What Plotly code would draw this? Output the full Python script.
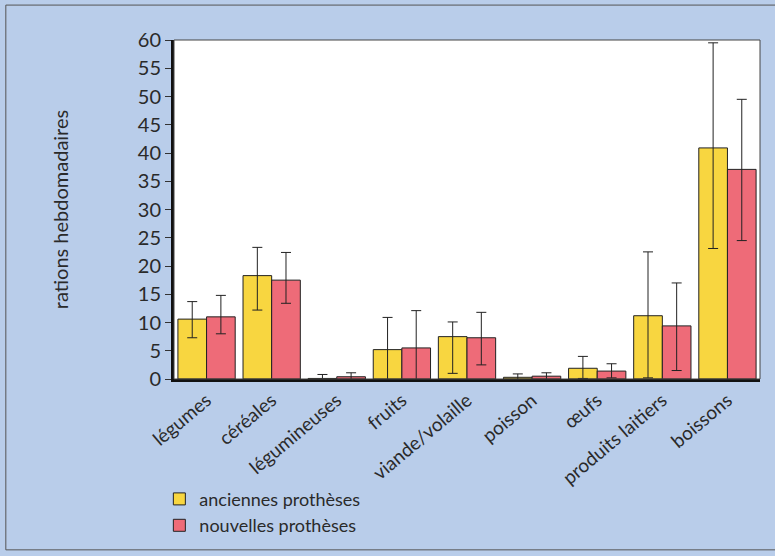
import plotly.graph_objects as go

# rations hebdomadaires par catégorie d'aliments
categories = ["légumes", "céréales", "légumineuses", "fruits", "viande/volaille",
              "poisson", "œufs", "produits laitiers", "boissons"]

anciennes = [10.6, 18.3, 0.1, 5.2, 7.5, 0.3, 1.9, 11.2, 40.9]
anciennes_plus = [3.1, 5.0, 0.7, 5.7, 2.6, 0.6, 2.1, 11.3, 18.6]
anciennes_moins = [3.3, 6.1, 0.7, 6.4, 6.5, 0.6, 1.8, 11.0, 17.8]

nouvelles = [11.0, 17.5, 0.4, 5.5, 7.3, 0.5, 1.4, 9.4, 37.1]
nouvelles_plus = [3.8, 4.9, 0.7, 6.6, 4.5, 0.6, 1.3, 7.6, 12.4]
nouvelles_moins = [3.0, 4.1, 0.7, 6.9, 4.8, 0.6, 1.2, 7.9, 12.6]

FONT = "Lato, 'Open Sans', sans-serif"
TXT = "#2a2a2a"
YELLOW = "#f8d640"
RED = "#ee6b78"
BG = "#b9cdea"

fig = go.Figure()

fig.add_trace(go.Bar(
    x=categories, y=anciennes, name="anciennes prothèses",
    marker=dict(color=YELLOW, line=dict(color="#222", width=1)),
    error_y=dict(type="data", array=anciennes_plus, arrayminus=anciennes_moins,
                 color="#222", thickness=1, width=5),
    cliponaxis=False,
))
fig.add_trace(go.Bar(
    x=categories, y=nouvelles, name="nouvelles prothèses",
    marker=dict(color=RED, line=dict(color="#222", width=1)),
    error_y=dict(type="data", array=nouvelles_plus, arrayminus=nouvelles_moins,
                 color="#222", thickness=1, width=5),
    cliponaxis=False,
))

# thin frame round the plot area
fig.add_shape(type="rect", xref="paper", yref="paper", x0=0, y0=0, x1=1, y1=1,
              line=dict(color="#444", width=1), layer="above")
# outer frame of the figure
fig.add_shape(type="rect", xref="paper", yref="paper", x0=-0.287, y0=-0.504, x1=1.2, y1=1.103,
              line=dict(color="#555", width=1), layer="below")

fig.update_layout(
    width=775, height=556,
    margin=dict(l=174, r=15, t=40, b=177),
    paper_bgcolor=BG, plot_bgcolor="white",
    barmode="group", bargap=0.12, bargroupgap=0,
    font=dict(family=FONT, color=TXT),
    showlegend=True,
    legend=dict(x=-0.025, xanchor="left", y=-0.3, yanchor="top",
                bgcolor="rgba(0,0,0,0)", font=dict(size=18, color=TXT),
                itemwidth=30, tracegroupgap=0, traceorder="normal"),
    xaxis=dict(showline=True, linecolor="#111", linewidth=3, tickangle=-40,
               tickfont=dict(size=19, color=TXT), ticks="", showgrid=False),
    yaxis=dict(range=[0, 60], dtick=5, showline=True, linecolor="#111", linewidth=3,
               ticks="outside", ticklen=6, tickcolor="#333", showgrid=False,
               zeroline=False, tickfont=dict(size=20, color=TXT),
               title=dict(text="rations hebdomadaires", font=dict(size=20, color=TXT), standoff=64)),
)

fig.write_html(
    "out.html",
    config={"displayModeBar": False},
    post_script=f"document.body.style.margin='0';document.body.style.background='{BG}';",
)
